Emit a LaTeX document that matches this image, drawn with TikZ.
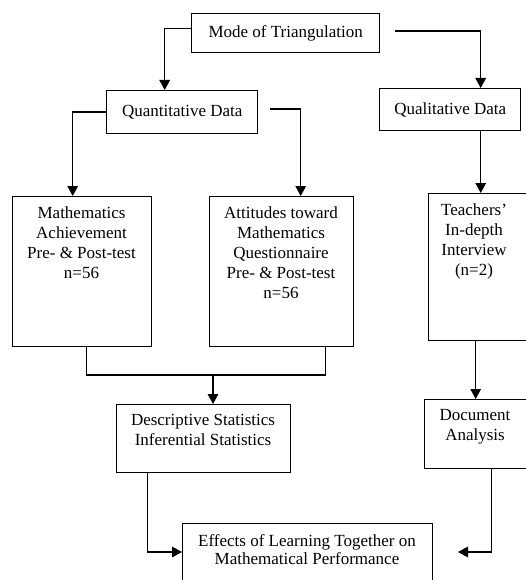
\documentclass[tikz,border=0pt]{standalone}
\usepackage{fontspec}
\setmainfont{Liberation Serif}
\usetikzlibrary{arrows.meta}
\begin{document}
\begin{tikzpicture}[x=1pt,y=-1pt,
  box/.style={draw, line width=1.4pt, inner sep=0pt, anchor=north west},
  lbl/.style={font=\fontsize{17}{20}\selectfont, align=center, inner sep=0pt},
  conn/.style={line width=1.5pt},
  arr/.style={conn, -{Triangle[length=10pt,width=10.5pt]}}]
\useasboundingbox (0,0) rectangle (526,580);
\clip (0,0) rectangle (526,580);
\fill[white] (0,0) rectangle (526,580);

% boxes
\node[box, lbl, minimum width=188pt, minimum height=39pt] (mode) at (191,13) {Mode of Triangulation};
\node[box, lbl, minimum width=151pt, minimum height=43pt] (quant) at (106,90) {Quantitative Data};
\node[box, lbl, minimum width=141pt, minimum height=42pt] (qual) at (379,88) {Qualitative Data};
\node[box, minimum width=139pt, minimum height=150pt] (math) at (12,196) {};
\node[box, minimum width=144pt, minimum height=150pt] (att) at (209,196) {};
\node[box, minimum width=120pt, minimum height=147pt] (teach) at (428,193) {};
\node[box, minimum width=174pt, minimum height=68pt] (desc) at (116,404) {};
\node[box, minimum width=120pt, minimum height=69pt] (doc) at (424,399) {};
\node[box, minimum width=250pt, minimum height=80pt] (eff) at (182,523) {};

% texts
\node[lbl, anchor=north] (matht) at (81.5,207) {Mathematics\\Achievement\\Pre- \& Post-test\\n=56};
\node[lbl, anchor=north] (attt) at (281,207) {Attitudes toward\\Mathematics\\Questionnaire\\Pre- \& Post-test\\n=56};
\node[lbl, anchor=north] (teacht) at (474,204) {Teachers'\\In-depth\\Interview\\(n=2)};
\node[lbl, anchor=north] (desct) at (203,414) {Descriptive Statistics\\Inferential Statistics};
\node[lbl, anchor=north] (doct) at (475,409) {Document\\Analysis};
\node[lbl, anchor=north, font=\fontsize{17}{18.5}\selectfont] (efft) at (307,534) {Effects of Learning Together on\\Mathematical Performance};

% free ends
\coordinate (ms) at (395,31);
\coordinate (qs) at (270,109);
\coordinate (mj) at (213,375);
\coordinate (ee) at (458,552);

% connectors
\draw[arr] ([yshift=4.5pt]mode.west) -| ([xshift=-17.5pt]quant.north);
\draw[arr] (ms) -| ([xshift=30.5pt]qual.north);
\draw[arr] (quant.west) -| ([xshift=-9.5pt]math.north);
\draw[arr] (qs) -| ([xshift=19pt]att.north);
\draw[arr] ([xshift=30.5pt]qual.south) -- ([xshift=30.5pt]qual.south |- teach.north);
\draw[conn] ([xshift=4.5pt]math.south) |- (mj);
\draw[conn] ([xshift=44pt]att.south) |- (mj);
\draw[arr] (mj) -- (mj |- desc.north);
\draw[arr] ([xshift=-13pt]teach.south) -- ([xshift=-13pt]teach.south |- doc.north);
\draw[arr] ([xshift=-56pt]desc.south) |- ([yshift=-29pt]eff.north west);
\draw[arr] ([xshift=7pt]doc.south) |- (ee);
\end{tikzpicture}
\end{document}
